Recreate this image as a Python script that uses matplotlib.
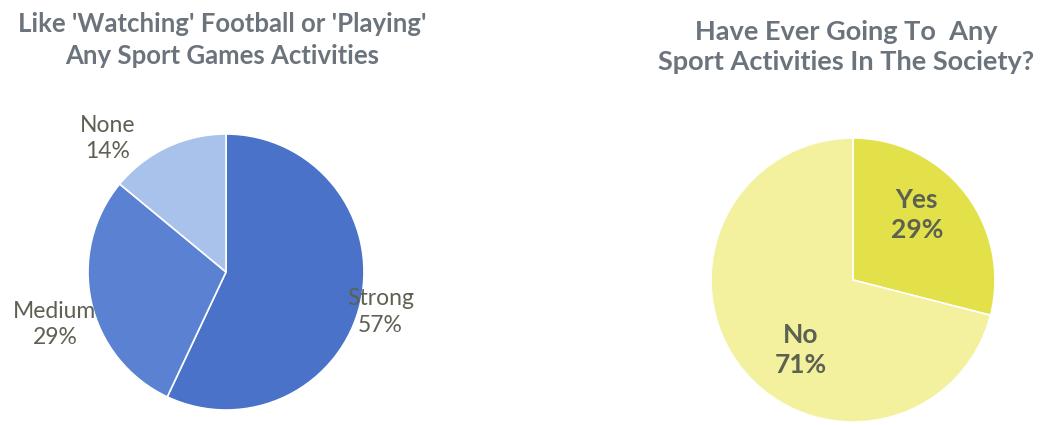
import matplotlib
matplotlib.use("Agg")
import matplotlib.pyplot as plt

# Data
left_title = "Like 'Watching' Football or 'Playing'\nAny Sport Games Activities"
left_labels = ["Strong", "Medium", "None"]
left_values = [57, 29, 14]

right_title = "Have Ever Going To  Any\nSport Activities In The Society?"
right_labels = ["Yes", "No"]
right_values = [29, 71]

# Styles
left_colors = ["#4a72c8", "#5b81d2", "#a8c2ec"]
right_colors = ["#e3e14a", "#f3f09e"]
left_label_pos = [(1.12, -0.29), (-1.24, -0.38), (-0.86, 0.97)]
right_label_pos = [(0.45, 0.46), (-0.37, -0.49)]
title_color = "#6b747c"
label_color = "#5c6152"

W, H = 1053, 425
fig = plt.figure(figsize=(W / 100, H / 100), dpi=100)
fig.patch.set_facecolor("white")
plt.rcParams['font.family'] = ['Lato', 'DejaVu Sans']


def pie_axes(cx, cy, r):
    ax = fig.add_axes([(cx - r) / W, (H - cy - r) / H, 2 * r / W, 2 * r / H])
    ax.set_xlim(-1, 1)
    ax.set_ylim(-1, 1)
    ax.set_aspect("equal")
    ax.axis("off")
    return ax


axL = pie_axes(226, 272, 138)
axL.pie(left_values, colors=left_colors, startangle=90, counterclock=False,
        radius=1, wedgeprops=dict(edgecolor="white", linewidth=1.2))
axL.set_xlim(-1, 1)
axL.set_ylim(-1, 1)
for lab, v, (x, y) in zip(left_labels, left_values, left_label_pos):
    axL.text(x, y, f"{lab}\n{v}%", ha="center", va="center", fontsize=16.5,
             color=label_color, linespacing=1.3, clip_on=False)

axR = pie_axes(853, 280, 142)
axR.pie(right_values, colors=right_colors, startangle=90, counterclock=False,
        radius=1, wedgeprops=dict(edgecolor="white", linewidth=1.2))
axR.set_xlim(-1, 1)
axR.set_ylim(-1, 1)
for lab, v, (x, y) in zip(right_labels, right_values, right_label_pos):
    axR.text(x, y, f"{lab}\n{v}%", ha="center", va="center", fontsize=19,
             fontweight="bold", color=label_color, linespacing=1.3, clip_on=False)

fig.text(222 / W, 1 - 40 / H, left_title, ha="center", va="center", fontsize=18.5,
         fontweight="bold", color=title_color, linespacing=1.35)
fig.text(846 / W, 1 - 47 / H, right_title, ha="center", va="center", fontsize=19.5,
         fontweight="bold", color=title_color, linespacing=1.3)

fig.savefig("out.png", dpi=100, facecolor="white")
